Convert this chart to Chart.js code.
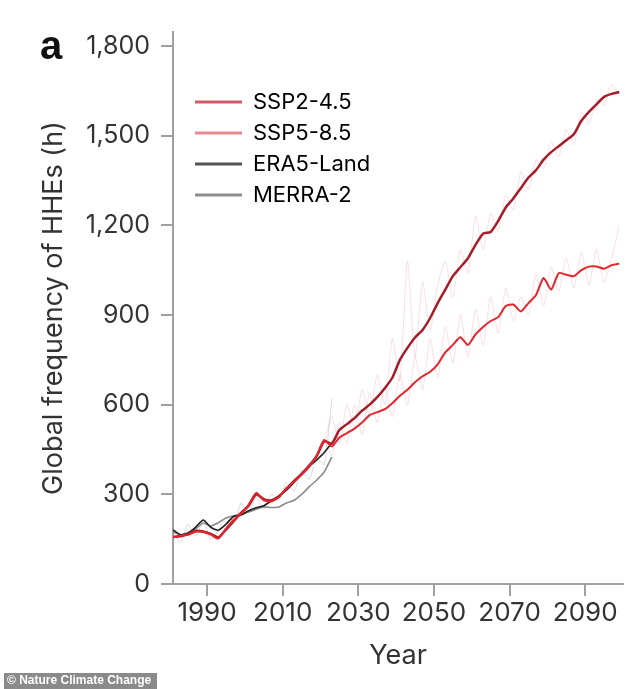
<!DOCTYPE html>
<html>
<head>
<meta charset="utf-8">
<script src="https://cdn.jsdelivr.net/npm/chart.js@4.4.1/dist/chart.umd.min.js"></script>
<style>
  html, body { margin: 0; padding: 0; background: #fff; }
  #wrap { width: 634px; height: 689px; position: relative; }
</style>
</head>
<body>
<div id="wrap"><canvas id="hhe-chart"></canvas></div>
<script>
// odd years, model runs 1981-2099
var modelYears = [1981, 1983, 1985, 1987, 1989, 1991, 1993, 1995, 1997, 1999,
  2001, 2003, 2005, 2007, 2009, 2011, 2013, 2015, 2017, 2019,
  2021, 2023, 2025, 2027, 2029, 2031, 2033, 2035, 2037, 2039,
  2041, 2043, 2045, 2047, 2049, 2051, 2053, 2055, 2057, 2059,
  2061, 2063, 2065, 2067, 2069, 2071, 2073, 2075, 2077, 2079,
  2081, 2083, 2085, 2087, 2089, 2091, 2093, 2095, 2097, 2099];

var ssp245 = [157, 162, 165, 175, 174, 165, 152, 185, 214, 235,
  265, 305, 280, 276, 290, 321, 342, 365, 393, 430,
  482, 460, 490, 505, 520, 540, 565, 575, 585, 605,
  630, 650, 675, 695, 710, 735, 775, 800, 826, 800,
  835, 860, 880, 893, 930, 935, 912, 940, 967, 1024,
  985, 1040, 1035, 1030, 1050, 1062, 1062, 1055, 1067, 1072];

var ssp585 = [157, 160, 167, 178, 176, 168, 156, 182, 210, 238,
  262, 300, 284, 280, 293, 318, 345, 368, 396, 428,
  478, 470, 515, 535, 555, 580, 600, 625, 655, 690,
  750, 790, 825, 850, 890, 940, 985, 1030, 1060, 1090,
  1135, 1172, 1178, 1215, 1260, 1290, 1325, 1360, 1385, 1420,
  1445, 1465, 1485, 1505, 1550, 1580, 1605, 1630, 1640, 1646];

// reanalyses, 1981-2023
var obsYears = [1981, 1983, 1985, 1987, 1989, 1991, 1993, 1995, 1997, 1999,
  2001, 2003, 2005, 2007, 2009, 2011, 2013, 2015, 2017, 2019, 2021, 2023];
var era5Land = [181, 165, 170, 190, 214, 190, 180, 200, 226, 231,
  245, 255, 262, 278, 295, 314, 340, 368, 393, 415, 440, 472];
var merra2 = [174, 165, 172, 185, 204, 194, 205, 221, 228, 234,
  241, 250, 258, 256, 258, 271, 280, 300, 325, 348, 375, 425];
var obsAnnual = [170, 140, 200, 160, 210, 150, 180, 220, 200, 270,
  240, 290, 250, 300, 280, 340, 310, 380, 350, 420, 400, 620];

// faint annual values of the projections
var annualYears = [2021, 2023, 2025, 2027, 2029, 2031, 2033, 2035, 2037, 2039,
  2041, 2043, 2045, 2047, 2049, 2051, 2053, 2055, 2057, 2059,
  2061, 2063, 2065, 2067, 2069, 2071, 2073, 2075, 2077, 2079,
  2081, 2083, 2085, 2087, 2089, 2091, 2093, 2095, 2097, 2099];
var ssp245Annual = [480, 430, 540, 470, 600, 500, 640, 540, 660, 560,
  700, 600, 760, 650, 820, 690, 860, 740, 900, 760,
  920, 800, 960, 840, 990, 880, 960, 900, 1040, 930,
  1060, 980, 1090, 990, 1110, 1000, 1120, 1010, 1090, 1200];
var ssp585Annual = [470, 560, 470, 600, 520, 650, 560, 700, 600, 820,
  680, 1080, 760, 1010, 850, 1000, 1080, 960, 1120, 1040,
  1230, 1120, 1240, 1180, 1300, 1250, 1380, 1320, 1420, 1390,
  1480, 1430, 1520, 1470, 1580, 1540, 1620, 1600, 1670, 1640];

var xTicks = [1990, 2010, 2030, 2050, 2070, 2090];
var yTicks = [0, 300, 600, 900, 1200, 1500, 1800];

var legendNames = ["SSP2-4.5", "SSP5-8.5", "ERA5-Land", "MERRA-2"];
var legendColors = ["#d25a66", "#e48a92", "#555555", "#8c8c8c"];

function pts(xs, ys) {
  return xs.map(function (x, i) { return { x: x, y: ys[i] }; });
}

Chart.defaults.font.family = "Inter, 'Noto Sans', sans-serif";
Chart.defaults.color = "#333";

var extras = {
  id: "extras",
  afterLayout: function (chart) {
    // vertical chartArea legend starts at top 0, move it into the plot
    chart.legend.left += 13;
    chart.legend.top += 82;
  },
  afterDraw: function (chart) {
    var ctx = chart.ctx;
    ctx.save();
    ctx.fillStyle = "#111";
    ctx.font = "bold 40px 'Liberation Sans', Arial, sans-serif";
    ctx.textBaseline = "alphabetic";
    ctx.fillText("a", 40, 59);
    ctx.fillStyle = "#8a8a8a";
    ctx.fillRect(4, 673, 153, 16);
    ctx.fillStyle = "#fff";
    ctx.font = "bold 12px 'Liberation Sans Narrow', 'Liberation Sans', sans-serif";
    ctx.textBaseline = "middle";
    ctx.fillText("\u00a9 Nature Climate Change", 7, 681);
    ctx.restore();
  }
};

var ctx = document.getElementById("hhe-chart").getContext("2d");

var hheChart = new Chart(ctx, {
  type: "line",
  data: {
    datasets: [
      { label: "SSP2-4.5", data: pts(modelYears, ssp245), borderColor: "#e3262e", borderWidth: 2 },
      { label: "SSP5-8.5", data: pts(modelYears, ssp585), borderColor: "#a51d2a", borderWidth: 2.5 },
      { label: "ERA5-Land", data: pts(obsYears, era5Land), borderColor: "#1e1e1e", borderWidth: 1.6 },
      { label: "MERRA-2", data: pts(obsYears, merra2), borderColor: "#8a8a8a", borderWidth: 1.6 },
      { label: "obs annual", data: pts(obsYears, obsAnnual), borderColor: "rgba(150,150,150,0.35)", borderWidth: 1 },
      { label: "SSP2-4.5 annual", data: pts(annualYears, ssp245Annual), borderColor: "rgba(235,150,160,0.3)", borderWidth: 1 },
      { label: "SSP5-8.5 annual", data: pts(annualYears, ssp585Annual), borderColor: "rgba(235,150,160,0.3)", borderWidth: 1 }
    ]
  },
  options: {
    responsive: true,
    maintainAspectRatio: false,
    animation: false,
    elements: {
      point: { radius: 0 },
      line: { tension: 0.2, fill: false }
    },
    layout: { padding: { top: 32, right: 11, left: 0, bottom: 0 } },
    plugins: {
      tooltip: { enabled: false },
      legend: {
        position: "chartArea",
        align: "start",
        labels: {
          boxWidth: 47,
          boxHeight: 3,
          padding: 9,
          color: "#333",
          font: { size: 22 },
          generateLabels: function (chart) {
            return legendNames.map(function (name, i) {
              return {
                text: name,
                fillStyle: legendColors[i],
                strokeStyle: legendColors[i],
                lineWidth: 0,
                hidden: false,
                datasetIndex: i
              };
            });
          }
        }
      }
    },
    scales: {
      x: {
        type: "linear",
        min: 1981,
        max: 2100,
        afterBuildTicks: function (scale) {
          scale.ticks = xTicks.map(function (v) { return { value: v }; });
        },
        afterFit: function (scale) { scale.height = 105; },
        ticks: {
          font: { size: 26 },
          color: "#333",
          padding: 2,
          maxRotation: 0,
          autoSkip: false,
          callback: function (v) { return String(v); }
        },
        grid: { drawOnChartArea: false, drawTicks: true, tickLength: 12, color: "#a0a0a0", lineWidth: 2 },
        border: { color: "#a0a0a0", width: 2 },
        title: { display: true, text: "Year", font: { size: 27 }, color: "#333", padding: { top: 0, bottom: 17 } }
      },
      y: {
        min: 0,
        max: 1847,
        afterBuildTicks: function (scale) {
          scale.ticks = yTicks.map(function (v) { return { value: v }; });
        },
        afterFit: function (scale) { scale.width = 173; },
        ticks: {
          font: { size: 25 },
          color: "#333",
          padding: 11,
          callback: function (v) { return v.toLocaleString("en-US"); }
        },
        grid: { drawOnChartArea: false, drawTicks: true, tickLength: 12, color: "#a0a0a0", lineWidth: 2 },
        border: { color: "#a0a0a0", width: 2 },
        title: { display: true, text: "Global frequency of HHEs (h)", font: { size: 27 }, color: "#333", padding: { top: 38, bottom: 0 } }
      }
    }
  },
  plugins: [extras]
});
</script>
</body>
</html>
